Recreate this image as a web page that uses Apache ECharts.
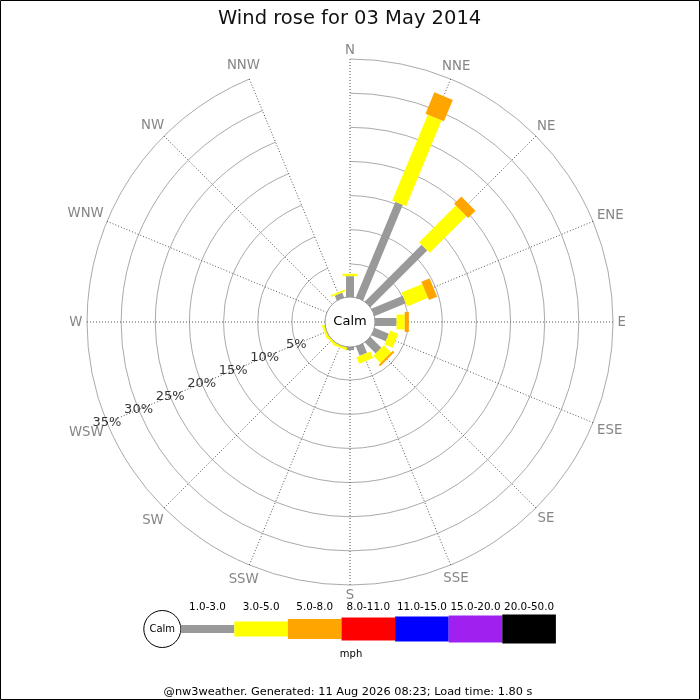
<!DOCTYPE html>
<html>
<head>
<meta charset="utf-8">
<script src="https://cdn.jsdelivr.net/npm/echarts@6/dist/echarts.min.js"></script>
<style>
  html, body { margin: 0; padding: 0; background: #fff; }
  #chart { width: 700px; height: 700px; }
</style>
</head>
<body>
<div id="chart"></div>
<script>
// ---- data ----
const directions = ['N','NNE','NE','ENE','E','ESE','SE','SSE','S','SSW','SW','WSW','W','WNW','NW','NNW'];
const speedBins = ['1.0-3.0','3.0-5.0','5.0-8.0','8.0-11.0','11.0-15.0','15.0-20.0','20.0-50.0'];
const pctTicks = [5, 10, 15, 20, 25, 30, 35];
// frequency (%) per direction for each speed class (mph)
const pct_1_3   = [3.2, 15.3, 11.9, 5.1, 3.3, 2.4, 2.4, 1.6, 0.6, 0.1, 0.1, 0.1, 0, 0, 0, 0.9];
const pct_3_5   = [0.35, 13.6, 7.6, 3.3, 1.2, 1.3, 1.5, 1.05, 0, 0.4, 0.4, 0.4, 0, 0, 0, 0.3];
const pct_5_8   = [0, 3.4, 1.5, 1.3, 0.6, 0, 0.3, 0, 0, 0, 0, 0, 0, 0, 0, 0];
const pct_8_11  = [0, 0, 0, 0, 0, 0, 0, 0, 0, 0, 0, 0, 0, 0, 0, 0];
const pct_11_15 = [0, 0, 0, 0, 0, 0, 0, 0, 0, 0, 0, 0, 0, 0, 0, 0];
const pct_15_20 = [0, 0, 0, 0, 0, 0, 0, 0, 0, 0, 0, 0, 0, 0, 0, 0];
const pct_20_50 = [0, 0, 0, 0, 0, 0, 0, 0, 0, 0, 0, 0, 0, 0, 0, 0];
const binValues = [pct_1_3, pct_3_5, pct_5_8, pct_8_11, pct_11_15, pct_15_20, pct_20_50];

// ---- styles ----
const binColors = ['#999999', '#ffff00', '#ffa500', '#ff0000', '#0000ff', '#a020f0', '#000000'];
const binWidths = [8, 15, 20, 23, 25, 27, 29];
const FONT = 'DejaVu Sans';
const CX = 350, CY = 322;
const DIR_FONT_SIZE = 13.3;

function makeRender(color, width) {
  return function (params, api) {
    const idx = api.value(0);
    const s = api.value(1), e = api.value(2);
    if (!(e > s)) return null;
    const c = api.coord([0, idx]);
    const f = api.coord([35, idx]);
    let ux = f[0] - c[0], uy = f[1] - c[1];
    const len = Math.sqrt(ux * ux + uy * uy) || 1;
    ux /= len; uy /= len;
    const nx = -uy * width / 2, ny = ux * width / 2;
    const p0 = api.coord([s, idx]);
    const p1 = api.coord([e, idx]);
    return {
      type: 'polygon',
      shape: { points: [
        [p0[0] + nx, p0[1] + ny], [p1[0] + nx, p1[1] + ny],
        [p1[0] - nx, p1[1] - ny], [p0[0] - nx, p0[1] - ny]
      ] },
      style: { fill: color, stroke: null }
    };
  };
}

const cum = directions.map(() => 0);
const barSeries = binValues.map((vals, k) => {
  const data = vals.map((v, i) => {
    const s = cum[i];
    cum[i] += v;
    return [i, s, cum[i]];
  });
  return {
    type: 'custom',
    name: speedBins[k],
    coordinateSystem: 'polar',
    renderItem: makeRender(binColors[k], binWidths[k]),
    encode: { angle: 0, radius: [1, 2] },
    data: data,
    silent: true,
    z: 3
  };
});

const labelSeries = {
  type: 'scatter',
  coordinateSystem: 'polar',
  symbolSize: 1,
  itemStyle: { color: 'transparent' },
  silent: true,
  z: 5,
  data: pctTicks.map(t => [t, 'WSW']),
  label: {
    show: true,
    position: 'inside',
    formatter: p => p.value[0] + '%',
    color: '#000',
    fontSize: 13,
    fontFamily: FONT
  }
};

// direction labels: box centred just outside the outer ring, touching it along the spoke
const measureCtx = document.createElement('canvas').getContext('2d');
measureCtx.font = DIR_FONT_SIZE + 'px "DejaVu Sans"';
const dirLabelSeries = {
  type: 'scatter',
  coordinateSystem: 'polar',
  symbolSize: 1,
  itemStyle: { color: 'transparent' },
  silent: true,
  z: 5,
  data: directions.map((name, i) => {
    const th = i * Math.PI / 8;
    const ux = Math.sin(th), uy = -Math.cos(th);
    const w = measureCtx.measureText(name).width;
    const h = 10;
    const ext = Math.abs(ux) * w / 2 + Math.abs(uy) * h / 2 + 4.5;
    return {
      value: [35, name],
      label: { offset: [ux * ext, uy * ext + 1] }
    };
  }),
  label: {
    show: true,
    position: 'inside',
    align: 'center',
    verticalAlign: 'middle',
    formatter: p => p.value[1],
    color: '#666',
    fontSize: DIR_FONT_SIZE,
    fontFamily: FONT
  }
};

// ---- legend graphics ----
const legendX0 = 180.7, legendStep = 53.6, legendY = 629;
const graphics = [
  { type: 'rect', z: 100, shape: { x: 0.5, y: 0.5, width: 699, height: 699 },
    style: { fill: null, stroke: '#000', lineWidth: 1 } },
  { type: 'circle', z: 100, shape: { cx: CX, cy: CY, r: 25 },
    style: { fill: '#fff', stroke: '#999', lineWidth: 1 } },
  { type: 'text', z: 101, x: CX, y: CY,
    style: { text: 'Calm', fill: '#000', font: '13px "DejaVu Sans"', textAlign: 'center', textVerticalAlign: 'middle' } },
  { type: 'circle', z: 100, shape: { cx: 162.3, cy: legendY, r: 18.5 },
    style: { fill: '#fff', stroke: '#000', lineWidth: 1 } },
  { type: 'text', z: 101, x: 162.3, y: legendY,
    style: { text: 'Calm', fill: '#000', font: '10px "DejaVu Sans"', textAlign: 'center', textVerticalAlign: 'middle' } },
  { type: 'text', z: 101, x: 351, y: 654.5,
    style: { text: 'mph', fill: '#000', font: '10px "DejaVu Sans"', textAlign: 'center', textVerticalAlign: 'middle' } },
  { type: 'text', z: 101, x: 348, y: 692.5,
    style: { text: '@nw3weather. Generated: 11 Aug 2026 08:23; Load time: 1.80 s', fill: '#000', font: '11.3px "DejaVu Sans"', textAlign: 'center', textVerticalAlign: 'middle' } }
];
speedBins.forEach((name, k) => {
  const x = legendX0 + k * legendStep;
  graphics.push({ type: 'rect', z: 100,
    shape: { x: x, y: legendY - binWidths[k] / 2, width: legendStep, height: binWidths[k] },
    style: { fill: binColors[k], stroke: null } });
  graphics.push({ type: 'text', z: 101, x: x + legendStep / 2, y: 607.5,
    style: { text: name, fill: '#000', font: '10.4px "DejaVu Sans"', textAlign: 'center', textVerticalAlign: 'middle' } });
});

const chart = echarts.init(document.getElementById('chart'), null, { renderer: 'canvas' });
chart.setOption({
  animation: false,
  backgroundColor: '#fff',
  textStyle: { fontFamily: FONT },
  title: {
    text: 'Wind rose for 03 May 2014',
    left: 218,
    top: 0,
    padding: [8.5, 0, 0, 0],
    textStyle: { fontSize: 19.5, fontWeight: 'normal', color: '#111', fontFamily: FONT }
  },
  polar: { center: [CX, CY], radius: [24, 263] },
  angleAxis: {
    type: 'category',
    data: directions,
    startAngle: 90,
    clockwise: true,
    boundaryGap: false,
    axisLine: { show: false },
    axisTick: { show: false },
    axisLabel: { show: false },
    splitLine: { show: true, lineStyle: { color: '#555', width: 1, type: [1, 2] } }
  },
  radiusAxis: {
    type: 'value',
    min: 0,
    max: 35,
    interval: 5,
    axisLine: { show: false },
    axisTick: { show: false },
    axisLabel: { show: false },
    splitLine: { show: true, lineStyle: { color: '#aaa', width: 1 } }
  },
  series: barSeries.concat([dirLabelSeries, labelSeries]),
  graphic: graphics
});
</script>
</body>
</html>
